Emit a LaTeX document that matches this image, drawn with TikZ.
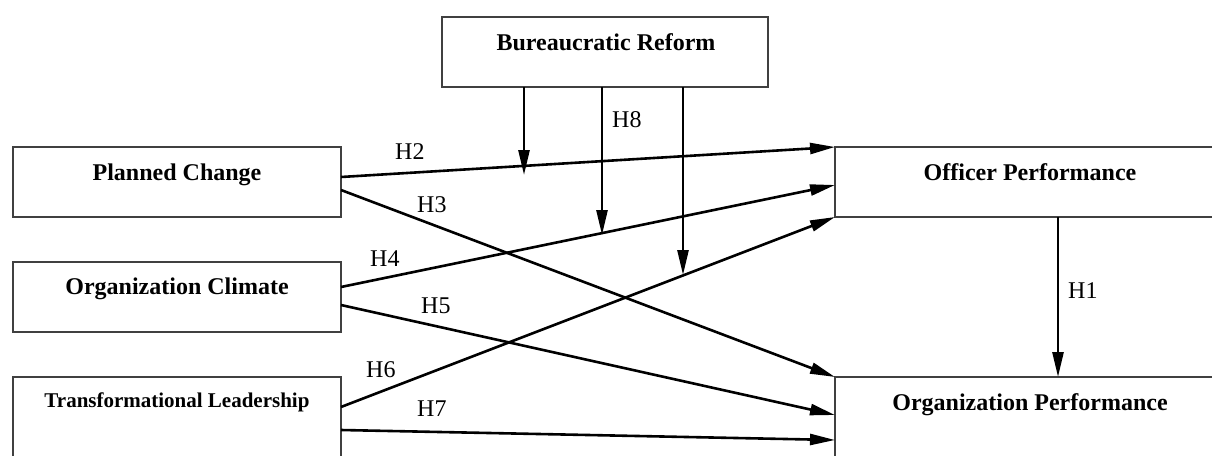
\documentclass[tikz,border=0pt]{standalone}
\usepackage{fontspec}
\setmainfont{Liberation Serif}
\usetikzlibrary{arrows.meta}
\begin{document}
\begin{tikzpicture}[x=1pt,y=-1pt,
  box/.style={draw=black!75, line width=1.3pt, rectangle, outer sep=0pt, inner sep=0pt},
  title/.style={anchor=base, inner sep=0pt, font=\fontsize{24}{28}\selectfont\bfseries},
  smalltitle/.style={anchor=base, inner sep=0pt, font=\fontsize{21}{25}\selectfont\bfseries},
  hyp/.style={anchor=base west, inner sep=0pt, font=\fontsize{24}{28}\selectfont},
  conn/.style={line width=2.6pt, -{Triangle[length=25pt,width=11pt]}}]
\useasboundingbox (0,0) rectangle (1212,455);
\clip (0,0) rectangle (1212,455);
% boxes
\node[box, minimum width=326pt, minimum height=70pt] (br) at (605,52) {};
\node[box, minimum width=328pt, minimum height=70pt] (pc) at (177,182) {};
\node[box, minimum width=328pt, minimum height=70pt] (oc) at (177,297) {};
\node[box, minimum width=328pt, minimum height=90pt] (tl) at (177,422) {};
\node[box, minimum width=387pt, minimum height=70pt] (op) at (1028.5,182) {};
\node[box, minimum width=387pt, minimum height=90pt] (orgp) at (1028.5,422) {};
% titles
\node[title] (brt) at (606,50) {Bureaucratic Reform};
\node[title] (pct) at (177,180) {Planned Change};
\node[title] (oct) at (177,294) {Organization Climate};
\node[smalltitle] (tlt) at (177,407) {Transformational Leadership};
\node[title] (opt) at (1030,180) {Officer Performance};
\node[title] (orgpt) at (1030,410) {Organization Performance};
% moderation targets
\coordinate (m1) at (524,175);
\coordinate (m2) at (602,235);
\coordinate (m3) at (683,275);
% connectors
\draw[conn] ([yshift=5pt]pc.east) -- (op.north west);
\draw[conn] ([yshift=-8pt]pc.east) -- (orgp.north west);
\draw[conn] ([yshift=10pt]oc.east) -- ([yshift=-3pt]op.west);
\draw[conn] ([yshift=-8pt]oc.east) -- ([yshift=7pt]orgp.west);
\draw[conn] ([yshift=15pt]tl.east) -- (op.south west);
\draw[conn] ([yshift=-8pt]tl.east) -- ([yshift=-18pt]orgp.west);
\draw[conn] ([xshift=29.5pt]op.south) -- ([xshift=29.5pt]orgp.north);
\draw[conn] ([xshift=-81pt]br.south) -- (m1);
\draw[conn] ([xshift=-3pt]br.south) -- (m2);
\draw[conn] ([xshift=78pt]br.south) -- (m3);
% labels
\node[hyp] (h1) at (1068,298) {H1};
\node[hyp] (h2) at (395,159) {H2};
\node[hyp] (h3) at (417,212) {H3};
\node[hyp] (h4) at (370,266) {H4};
\node[hyp] (h5) at (421,313) {H5};
\node[hyp] (h6) at (366,377) {H6};
\node[hyp] (h7) at (417,416) {H7};
\node[hyp] (h8) at (612,127) {H8};
\end{tikzpicture}
\end{document}
